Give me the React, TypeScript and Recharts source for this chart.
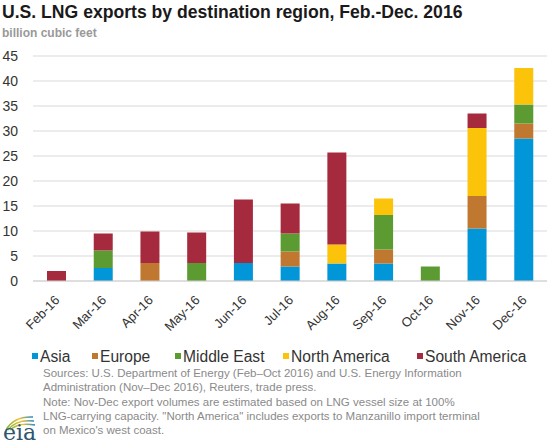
import React from 'react';
import { BarChart, Bar, XAxis, YAxis, CartesianGrid } from 'recharts';

const months = ['Feb-16', 'Mar-16', 'Apr-16', 'May-16', 'Jun-16', 'Jul-16', 'Aug-16', 'Sep-16', 'Oct-16', 'Nov-16', 'Dec-16'];
const asia = [0, 2.6, 0, 0, 3.6, 2.9, 3.5, 3.5, 0, 10.5, 28.5];
const europe = [0, 0, 3.6, 0, 0, 3.0, 0, 2.8, 0, 6.5, 3.0];
const middleEast = [0, 3.5, 0, 3.6, 0, 3.6, 0, 6.9, 2.9, 0, 3.8];
const northAmerica = [0, 0, 0, 0, 0, 0, 3.8, 3.3, 0, 13.6, 7.3];
const southAmerica = [2.0, 3.4, 6.3, 6.1, 12.7, 6.0, 18.4, 0, 0, 2.9, 0];
const yTicks = [0, 5, 10, 15, 20, 25, 30, 35, 40, 45];

const seriesNames = ['Asia', 'Europe', 'Middle East', 'North America', 'South America'];
const seriesKeys = ['asia', 'europe', 'middleEast', 'northAmerica', 'southAmerica'];
const seriesColors = ['#0096d7', '#c0772f', '#5c9a32', '#fcc30b', '#a52a3d'];

const data = months.map((m, i) => ({
  month: m,
  asia: asia[i],
  europe: europe[i],
  middleEast: middleEast[i],
  northAmerica: northAmerica[i],
  southAmerica: southAmerica[i],
}));

const FONT = 'Arial, "Liberation Sans", Helvetica, sans-serif';

const XTick = (props: any) => {
  const { x, y, payload } = props;
  return (
    <g transform={`translate(${x + 4},${y + 12}) rotate(-45)`}>
      <text x={0} y={0} textAnchor="end" fill="#333" fontSize={13} fontFamily={FONT}>
        {payload.value}
      </text>
    </g>
  );
};

const legendX = [32, 92, 175, 283, 417];

export default function App() {
  return (
    <div style={{ position: 'absolute', left: 0, top: 0, width: 550, height: 446, background: '#fff', fontFamily: FONT, overflow: 'hidden' }}>
      <div style={{ position: 'absolute', left: 2, top: 2, fontSize: 17.6, fontWeight: 'bold', color: '#1a1a1a', whiteSpace: 'nowrap', lineHeight: '20px' }}>
        U.S. LNG exports by destination region, Feb.-Dec. 2016
      </div>
      <div style={{ position: 'absolute', left: 2, top: 26, fontSize: 12, fontWeight: 'bold', color: '#999', whiteSpace: 'nowrap', lineHeight: '15px' }}>
        billion cubic feet
      </div>
      <div style={{ position: 'absolute', left: 0, top: 0 }}>
        <BarChart width={550} height={340} data={data} margin={{ top: 56, right: 3, left: 0, bottom: 0 }}>
          <CartesianGrid vertical={false} stroke="#d9d9d9" strokeWidth={1} />
          <XAxis
            dataKey="month"
            height={59}
            tick={<XTick />}
            tickLine={false}
            axisLine={{ stroke: '#d0d0d0' }}
            interval={0}
          />
          <YAxis
            width={33}
            domain={[0, 45]}
            ticks={yTicks}
            tickLine={false}
            tickSize={0}
            tickMargin={15}
            axisLine={false}
            tick={{ fill: '#333', fontSize: 14, fontFamily: FONT }}
            interval={0}
          />
          {seriesKeys.map((k, i) => (
            <Bar key={k} dataKey={k} name={seriesNames[i]} stackId="a" fill={seriesColors[i]} barSize={19} isAnimationActive={false} />
          ))}
        </BarChart>
      </div>
      <svg style={{ position: 'absolute', left: 0, top: 345 }} width={550} height={22}>
        {seriesNames.map((n, i) => (
          <g key={n}>
            <rect x={legendX[i]} y={8} width={6} height={6} fill={seriesColors[i]} />
            <text x={legendX[i] + 8} y={16.5} fontSize={15.6} fill="#333" fontFamily={FONT}>{n}</text>
          </g>
        ))}
      </svg>
      <div style={{ position: 'absolute', left: 43, top: 366, fontSize: 11.5, color: '#8a8a8a', lineHeight: '14.3px', whiteSpace: 'nowrap' }}>
        <div>Sources: U.S. Department of Energy (Feb–Oct 2016) and U.S. Energy Information</div>
        <div>Administration (Nov–Dec 2016), Reuters, trade press.</div>
        <div>Note: Nov-Dec export volumes are estimated based on LNG vessel size at 100%</div>
        <div>LNG-carrying capacity. "North America" includes exports to Manzanillo import terminal</div>
        <div>on Mexico's west coast.</div>
      </div>
      <svg style={{ position: 'absolute', left: 0, top: 402 }} width={40} height={42}>
        <defs>
          <linearGradient id="sw" x1="0" y1="0" x2="1" y2="0">
            <stop offset="0" stopColor="#7cb342" />
            <stop offset="0.5" stopColor="#f5c12e" />
            <stop offset="1" stopColor="#1e88c8" />
          </linearGradient>
        </defs>
        <path d="M6 28 Q 14 14 33 15" stroke="url(#sw)" strokeWidth={1.6} fill="none" />
        <path d="M8 28 Q 16 17 34 19" stroke="url(#sw)" strokeWidth={1.6} fill="none" />
        <path d="M10 28 Q 18 20 35 23" stroke="url(#sw)" strokeWidth={1.6} fill="none" />
        <text x={3} y={38} fontSize={22} fontFamily='"DejaVu Serif", "Liberation Serif", serif' fill="#2f5670">eia</text>
      </svg>
    </div>
  );
}
